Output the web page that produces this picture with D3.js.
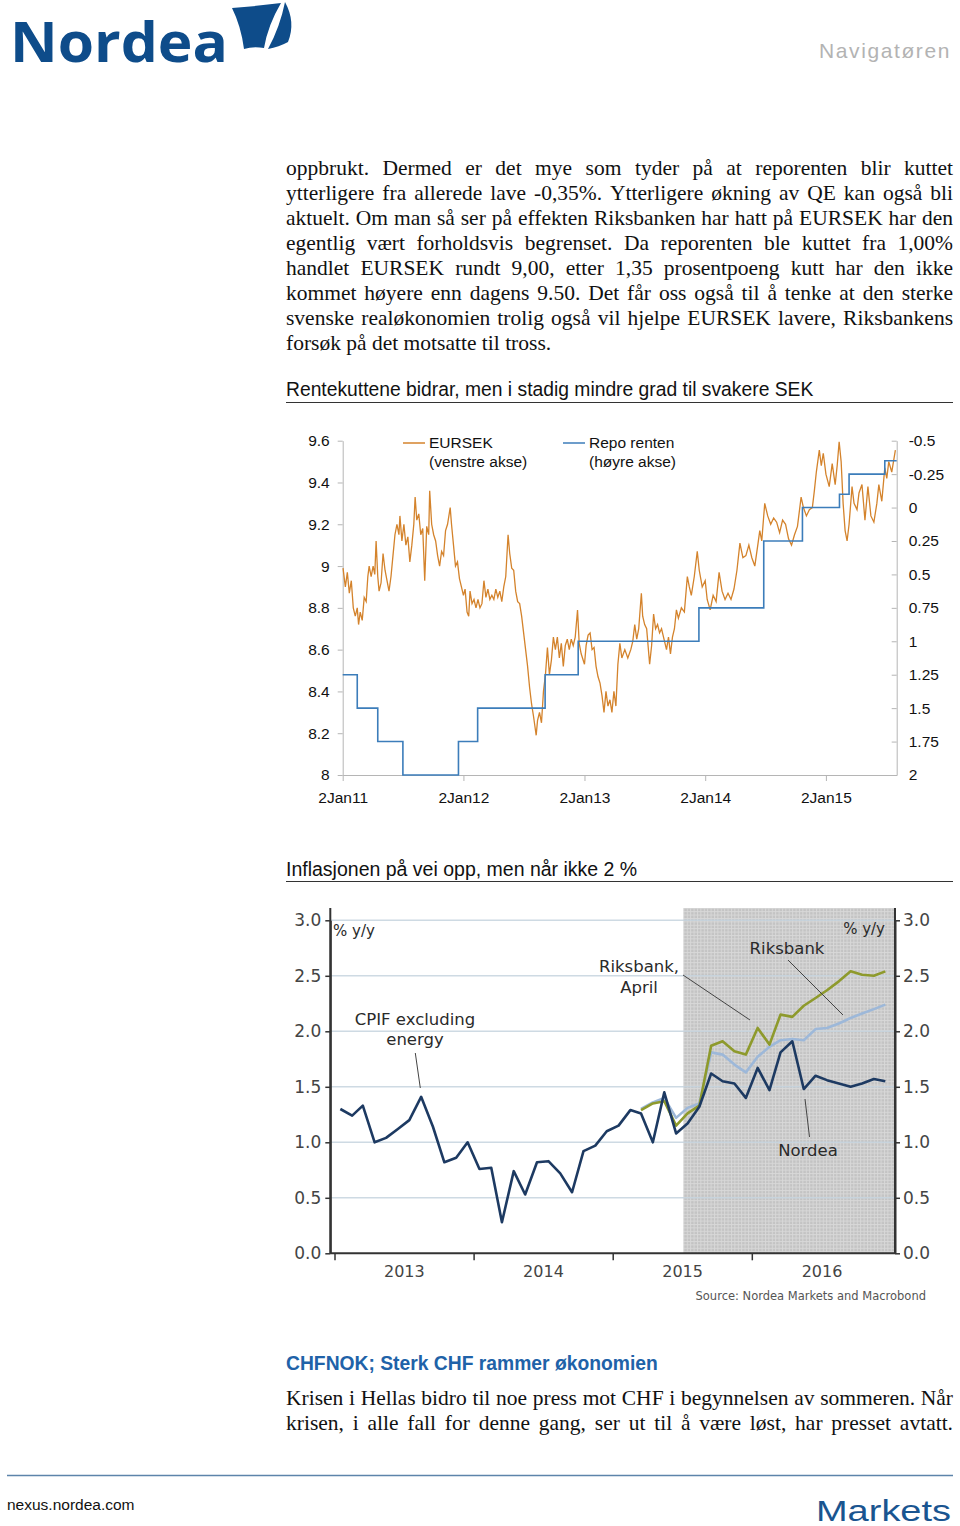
<!DOCTYPE html>
<html><head><meta charset="utf-8">
<script src="https://cdn.jsdelivr.net/npm/d3@7"></script>
<style>body{margin:0;background:#fff;}svg{display:block;}</style>
</head><body>
<svg id="page" width="960" height="1526"></svg>
<script>
// ---------------- DATA ----------------
const bodyLines = [
"oppbrukt. Dermed er det mye som tyder på at reporenten blir kuttet",
"ytterligere fra allerede lave -0,35%. Ytterligere økning av QE kan også bli",
"aktuelt. Om man så ser på effekten Riksbanken har hatt på EURSEK har den",
"egentlig vært forholdsvis begrenset. Da reporenten ble kuttet fra 1,00%",
"handlet EURSEK rundt 9,00, etter 1,35 prosentpoeng kutt har den ikke",
"kommet høyere enn dagens 9.50. Det får oss også til å tenke at den sterke",
"svenske realøkonomien trolig også vil hjelpe EURSEK lavere, Riksbankens",
"forsøk på det motsatte til tross."];
const lastLines = [
"Krisen i Hellas bidro til noe press mot CHF i begynnelsen av sommeren. Når",
"krisen, i alle fall for denne gang, ser ut til å være løst, har presset avtatt."];

// Chart 1
const eurTicks = [9.6,9.4,9.2,9,8.8,8.6,8.4,8.2,8];
const repoTicks = [-0.5,-0.25,0,0.25,0.5,0.75,1,1.25,1.5,1.75,2];
const dateTicks = ["2011-01-02","2012-01-02","2013-01-02","2014-01-02","2015-01-02"];
const dateTickLabels = ["2Jan11","2Jan12","2Jan13","2Jan14","2Jan15"];
const repo = [["2011-01-02",1.25],["2011-02-15",1.5],["2011-04-18",1.75],["2011-07-03",2.0],["2011-12-18",1.75],["2012-02-14",1.5],["2012-09-05",1.25],["2012-12-14",1.0],["2013-12-14",0.75],["2014-06-28",0.25],["2014-10-23",0.0],["2015-02-12",-0.1],["2015-03-13",-0.25],["2015-06-29",-0.35],["2015-08-04",-0.35]];
const eursek = [
["2011-01-03",8.99],["2011-01-10",8.90],["2011-01-16",8.97],["2011-01-22",8.87],["2011-01-28",8.93],["2011-02-03",8.80],["2011-02-09",8.76],["2011-02-15",8.80],["2011-02-19",8.72],["2011-02-24",8.78],["2011-03-02",8.74],["2011-03-08",8.85],["2011-03-14",8.83],["2011-03-19",8.95],["2011-03-23",9.00],["2011-03-29",8.95],["2011-04-04",9.00],["2011-04-09",8.96],["2011-04-13",9.12],["2011-04-18",8.95],["2011-04-22",8.88],["2011-04-28",8.92],["2011-05-04",9.06],["2011-05-10",8.98],["2011-05-16",8.93],["2011-05-22",8.88],["2011-05-28",8.95],["2011-06-03",9.05],["2011-06-09",9.15],["2011-06-15",9.20],["2011-06-21",9.15],["2011-06-24",9.24],["2011-06-30",9.12],["2011-07-06",9.20],["2011-07-12",9.10],["2011-07-18",9.14],["2011-07-24",9.02],["2011-07-30",9.10],["2011-08-05",9.20],["2011-08-09",9.33],["2011-08-14",9.22],["2011-08-20",9.25],["2011-08-26",9.15],["2011-09-01",9.18],["2011-09-07",8.93],["2011-09-13",9.19],["2011-09-19",9.15],["2011-09-22",9.36],["2011-09-28",9.20],["2011-10-04",9.15],["2011-10-10",9.12],["2011-10-16",9.05],["2011-10-22",9.00],["2011-10-28",9.07],["2011-11-03",9.05],["2011-11-09",9.17],["2011-11-15",9.20],["2011-11-23",9.28],["2011-11-27",9.20],["2011-12-03",9.10],["2011-12-09",9.00],["2011-12-15",9.02],["2011-12-21",8.94],["2011-12-27",8.90],
["2012-01-02",8.86],["2012-01-07",8.89],["2012-01-13",8.78],["2012-01-18",8.76],["2012-01-22",8.88],["2012-01-28",8.82],["2012-02-03",8.84],["2012-02-09",8.80],["2012-02-15",8.84],["2012-02-21",8.80],["2012-02-27",8.82],["2012-03-04",8.93],["2012-03-10",8.85],["2012-03-16",8.89],["2012-03-22",8.84],["2012-03-28",8.86],["2012-04-03",8.84],["2012-04-09",8.89],["2012-04-15",8.85],["2012-04-21",8.88],["2012-04-27",8.83],["2012-05-03",8.90],["2012-05-09",8.95],["2012-05-16",9.15],["2012-05-21",9.06],["2012-05-27",8.99],["2012-06-02",8.98],["2012-06-08",8.88],["2012-06-14",8.83],["2012-06-20",8.82],["2012-06-26",8.76],["2012-07-02",8.68],["2012-07-08",8.60],["2012-07-14",8.52],["2012-07-20",8.42],["2012-07-26",8.34],["2012-08-01",8.28],["2012-08-09",8.19],["2012-08-13",8.26],["2012-08-19",8.30],["2012-08-25",8.25],["2012-08-31",8.40],["2012-09-06",8.48],["2012-09-12",8.61],["2012-09-18",8.48],["2012-09-24",8.55],["2012-09-30",8.66],["2012-10-06",8.60],["2012-10-12",8.66],["2012-10-18",8.56],["2012-10-24",8.63],["2012-10-30",8.52],["2012-11-05",8.62],["2012-11-11",8.65],["2012-11-17",8.60],["2012-11-23",8.65],["2012-11-29",8.62],["2012-12-05",8.66],["2012-12-12",8.79],["2012-12-17",8.63],["2012-12-23",8.58],
["2013-01-02",8.53],["2013-01-07",8.62],["2013-01-13",8.67],["2013-01-19",8.68],["2013-01-25",8.60],["2013-01-31",8.61],["2013-02-06",8.52],["2013-02-12",8.47],["2013-02-18",8.44],["2013-02-24",8.38],["2013-03-02",8.30],["2013-03-08",8.40],["2013-03-14",8.33],["2013-03-20",8.36],["2013-03-26",8.30],["2013-04-01",8.40],["2013-04-07",8.33],["2013-04-13",8.53],["2013-04-19",8.63],["2013-04-25",8.56],["2013-05-04",8.60],["2013-05-13",8.56],["2013-05-22",8.60],["2013-05-28",8.64],["2013-06-03",8.72],["2013-06-09",8.65],["2013-06-15",8.70],["2013-06-23",8.87],["2013-06-27",8.76],["2013-07-03",8.72],["2013-07-09",8.70],["2013-07-18",8.53],["2013-07-24",8.62],["2013-07-30",8.77],["2013-08-05",8.70],["2013-08-11",8.72],["2013-08-17",8.68],["2013-08-23",8.70],["2013-08-29",8.66],["2013-09-07",8.60],["2013-09-13",8.66],["2013-09-19",8.58],["2013-09-25",8.66],["2013-10-01",8.70],["2013-10-07",8.79],["2013-10-13",8.75],["2013-10-22",8.80],["2013-10-31",8.78],["2013-11-09",8.95],["2013-11-15",8.90],["2013-11-21",8.86],["2013-11-30",8.95],["2013-12-09",9.07],["2013-12-15",8.98],["2013-12-24",8.90],
["2014-01-02",8.93],["2014-01-08",8.84],["2014-01-17",8.79],["2014-01-26",8.86],["2014-02-04",8.83],["2014-02-13",8.97],["2014-02-22",8.88],["2014-03-03",8.84],["2014-03-12",8.87],["2014-03-21",8.84],["2014-03-30",8.89],["2014-04-08",8.98],["2014-04-17",9.11],["2014-04-26",9.04],["2014-05-05",9.05],["2014-05-14",9.10],["2014-05-23",9.04],["2014-06-01",9.00],["2014-06-10",9.10],["2014-06-16",9.17],["2014-06-22",9.12],["2014-07-01",9.30],["2014-07-10",9.24],["2014-07-19",9.20],["2014-07-28",9.23],["2014-08-06",9.21],["2014-08-15",9.16],["2014-08-24",9.22],["2014-09-02",9.20],["2014-09-11",9.13],["2014-09-20",9.10],["2014-09-29",9.15],["2014-10-08",9.19],["2014-10-19",9.33],["2014-10-26",9.28],["2014-11-04",9.24],["2014-11-13",9.27],["2014-11-22",9.28],["2014-11-28",9.36],["2014-12-04",9.45],["2014-12-13",9.555],["2014-12-19",9.48],["2014-12-25",9.54],
["2015-01-02",9.44],["2015-01-12",9.38],["2015-01-21",9.49],["2015-01-30",9.39],["2015-02-05",9.48],["2015-02-11",9.595],["2015-02-17",9.50],["2015-02-23",9.30],["2015-03-01",9.17],["2015-03-07",9.12],["2015-03-13",9.20],["2015-03-22",9.38],["2015-03-28",9.30],["2015-04-06",9.27],["2015-04-12",9.35],["2015-04-21",9.39],["2015-04-30",9.22],["2015-05-09",9.38],["2015-05-18",9.24],["2015-05-27",9.21],["2015-06-05",9.30],["2015-06-11",9.39],["2015-06-20",9.31],["2015-06-29",9.47],["2015-07-05",9.42],["2015-07-11",9.50],["2015-07-20",9.45],["2015-07-31",9.555]];

// Chart 2 (monthly, Jan 2013 - Dec 2016)
const cpifStart = "2013-01-15";
const nordea = [1.30,1.24,1.33,1.00,1.04,1.12,1.20,1.41,1.14,0.82,0.86,1.00,0.76,0.77,0.28,0.74,0.53,0.82,0.83,0.72,0.55,0.92,0.97,1.10,1.15,1.29,1.26,1.00,1.45,1.08,1.17,1.32,1.62,1.55,1.53,1.40,1.67,1.47,1.81,1.91,1.48,1.60,1.56,1.53,1.50,1.53,1.57,1.55];
const forecastStartIndex = 26;
const riksbankApril = [1.29,1.35,1.37,1.15,1.26,1.33,1.87,1.91,1.82,1.79,2.03,1.88,2.15,2.13,2.23,2.30,2.37,2.45,2.54,2.51,2.50,2.54];
const riksbank = [1.30,1.36,1.40,1.22,1.31,1.35,1.81,1.79,1.70,1.63,1.77,1.86,1.92,1.93,1.92,2.02,2.03,2.07,2.12,2.16,2.20,2.24];
const cpifTicks = [0,0.5,1,1.5,2,2.5,3];
const yearTicks = ["2013-01-01","2014-01-01","2015-01-01","2016-01-01"];
const yearLabels = ["2013","2014","2015","2016"];
const yearLabelDates = ["2013-07-02","2014-07-02","2015-07-02","2016-07-02"];
const forecastShadeStart = "2015-07-04";

// ---------------- DRAW ----------------
const P = d3.timeParse("%Y-%m-%d");
const svg = d3.select("#page");
const SANS = '"Liberation Sans", Arial, sans-serif';
const SERIF = '"Liberation Serif", "Times New Roman", serif';
const VER = '"DejaVu Sans", Verdana, sans-serif';

// Header
svg.append("text").attr("x",10).attr("y",62).attr("textLength",218).attr("lengthAdjust","spacingAndGlyphs")
  .attr("font-family",'"Open Sans", sans-serif').attr("font-weight",700).attr("font-size",55)
  .attr("fill","#0e4c8a").text("Nordea");
svg.append("path").attr("d","M232,8 Q258,6 281,3 Q268,25 264,48 Q253,46 244,49 Q241,26 232,8 Z").attr("fill","#0e4c8a");
svg.append("path").attr("d","M285,2 Q296,22 288,42 Q279,47 268,49 Q280,27 285,2 Z").attr("fill","#0e4c8a");
svg.append("text").attr("x",951).attr("y",58).attr("text-anchor","end").attr("font-family",SANS)
  .attr("font-size",21).attr("letter-spacing",1.6).attr("fill","#b3b3b3").text("Navigatøren");

function justify(g, lines, o){
  lines.forEach((line,i)=>{
    const y = o.y0 + i*o.lh;
    const last = i===lines.length-1 && !o.justifyLast;
    if(last){
      g.append("text").attr("x",o.x0).attr("y",y).attr("font-family",o.font).attr("font-size",o.size).attr("fill",o.color).text(line);
      return;
    }
    const words = line.split(" ");
    const nodes = words.map(w=>g.append("text").attr("y",y).attr("font-family",o.font).attr("font-size",o.size).attr("fill",o.color).text(w));
    const ws = nodes.map(n=>n.node().getComputedTextLength());
    const gap = (o.x1-o.x0-d3.sum(ws))/(words.length-1);
    let x = o.x0;
    nodes.forEach((n,j)=>{ n.attr("x",x); x += ws[j]+gap; });
  });
}
justify(svg.append("g"), bodyLines, {x0:286,x1:953,y0:175,lh:25,font:SERIF,size:21.5,color:"#111",justifyLast:false});

// ---- Chart 1
svg.append("text").attr("x",286).attr("y",396).attr("font-family",SANS).attr("font-size",19.3).attr("fill","#111")
  .text("Rentekuttene bidrar, men i stadig mindre grad til svakere SEK");
svg.append("line").attr("x1",286).attr("x2",953).attr("y1",402.5).attr("y2",402.5).attr("stroke","#333").attr("stroke-width",1);

const c1 = {l:342.7, r:896.7, t:440.7, b:775};
const x1 = d3.scaleTime().domain([P("2011-01-02"),P("2015-08-04")]).range([c1.l,c1.r]);
const yL = d3.scaleLinear().domain([8,9.6]).range([c1.b,c1.t]);
const yR = d3.scaleLinear().domain([-0.5,2]).range([c1.t,c1.b]);
const axCol = "#b5b5b5";
function styleAxis(g){
  g.select(".domain").attr("stroke",axCol);
  g.selectAll(".tick line").attr("stroke",axCol);
  g.selectAll(".tick text").attr("fill","#111").attr("font-family",SANS).attr("font-size",15.5);
}
svg.append("g").attr("transform",`translate(${c1.l},0)`)
  .call(d3.axisLeft(yL).tickValues(eurTicks).tickSize(5).tickSizeOuter(0).tickPadding(8).tickFormat(String)).call(styleAxis);
svg.append("g").attr("transform",`translate(${c1.r},0)`)
  .call(d3.axisRight(yR).tickValues(repoTicks).tickSize(-5).tickSizeOuter(0).tickPadding(12).tickFormat(String)).call(styleAxis);
svg.append("g").attr("transform",`translate(0,${c1.b})`)
  .call(d3.axisBottom(x1).tickValues(dateTicks.map(P)).tickSize(6).tickSizeOuter(0).tickPadding(11)
    .tickFormat((d,i)=>dateTickLabels[i])).call(styleAxis);

const lineEur = d3.line().x(d=>x1(P(d[0]))).y(d=>yL(d[1]));
svg.append("path").datum(eursek).attr("d",lineEur).attr("fill","none").attr("stroke","#D4832C").attr("stroke-width",1.3);
const lineRepo = d3.line().curve(d3.curveStepAfter).x(d=>x1(P(d[0]))).y(d=>yR(d[1]));
svg.append("path").datum(repo).attr("d",lineRepo).attr("fill","none").attr("stroke","#3C7DBA").attr("stroke-width",1.6);

// legend
const leg = [{x:403,c:"#D4832C",t1:"EURSEK",t2:"(venstre akse)"},{x:563,c:"#3C7DBA",t1:"Repo renten",t2:"(høyre akse)"}];
leg.forEach(d=>{
  svg.append("line").attr("x1",d.x).attr("x2",d.x+22).attr("y1",443).attr("y2",443).attr("stroke",d.c).attr("stroke-width",1.5);
  svg.append("text").attr("x",d.x+26).attr("y",448).attr("font-family",SANS).attr("font-size",15.5).attr("fill","#111").text(d.t1);
  svg.append("text").attr("x",d.x+26).attr("y",467).attr("font-family",SANS).attr("font-size",15.5).attr("fill","#111").text(d.t2);
});

// ---- Chart 2
svg.append("text").attr("x",286).attr("y",876).attr("font-family",SANS).attr("font-size",19.5).attr("fill","#111")
  .text("Inflasjonen på vei opp, men når ikke 2 %");
svg.append("line").attr("x1",286).attr("x2",953).attr("y1",881.5).attr("y2",881.5).attr("stroke","#333").attr("stroke-width",1);

const c2 = {l:330.3, r:895, t:908, b:1253.3};
const x2 = d3.scaleTime().domain([P("2013-01-01"),P("2017-01-01")]).range([335,891.8]);
const y2 = d3.scaleLinear().domain([0,3]).range([c2.b,920.3]);

const defs = svg.append("defs");
const pat = defs.append("pattern").attr("id","hatch").attr("width",3.4).attr("height",3.4).attr("patternUnits","userSpaceOnUse");
pat.append("rect").attr("width",3.4).attr("height",3.4).attr("fill","#c3c3c3");
pat.append("rect").attr("width",3.4).attr("height",1).attr("fill","#d8d8d8");
pat.append("rect").attr("width",1).attr("height",3.4).attr("fill","#d8d8d8");

const shadeX = x2(P(forecastShadeStart));
svg.append("rect").attr("x",shadeX).attr("y",c2.t).attr("width",c2.r-shadeX).attr("height",c2.b-c2.t).attr("fill","url(#hatch)");

// gridlines
svg.append("g").selectAll("line").data(cpifTicks.filter(d=>d>0)).join("line")
  .attr("x1",c2.l).attr("x2",c2.r).attr("y1",d=>y2(d)).attr("y2",d=>y2(d))
  .attr("stroke","#c6d4de").attr("stroke-width",1.5).attr("stroke-opacity",0.85);

const dark = "#333";
function styleAxis2(g, size){
  g.select(".domain").attr("stroke",dark).attr("stroke-width",2);
  g.selectAll(".tick line").attr("stroke",dark).attr("stroke-width",1.5);
  g.selectAll(".tick text").attr("fill","#444").attr("font-family",VER).attr("font-size",size);
}
const fmt = d3.format(".1f");
svg.append("g").attr("transform",`translate(${c2.l},0)`)
  .call(d3.axisLeft(y2).tickValues(cpifTicks).tickSize(5).tickSizeOuter(0).tickPadding(4).tickFormat(fmt)).call(g=>styleAxis2(g,17));
svg.append("g").attr("transform",`translate(${c2.r},0)`)
  .call(d3.axisRight(y2).tickValues(cpifTicks).tickSize(5).tickSizeOuter(0).tickPadding(3).tickFormat(fmt)).call(g=>styleAxis2(g,17));
// extend vertical axes to top
svg.append("line").attr("x1",c2.l).attr("x2",c2.l).attr("y1",c2.t).attr("y2",c2.b).attr("stroke",dark).attr("stroke-width",2);
svg.append("line").attr("x1",c2.r).attr("x2",c2.r).attr("y1",c2.t).attr("y2",c2.b).attr("stroke",dark).attr("stroke-width",2);
// x axis
svg.append("line").attr("x1",c2.l).attr("x2",c2.r).attr("y1",c2.b).attr("y2",c2.b).attr("stroke",dark).attr("stroke-width",2);
svg.append("g").selectAll("line").data(yearTicks).join("line")
  .attr("x1",d=>x2(P(d))).attr("x2",d=>x2(P(d))).attr("y1",c2.b).attr("y2",c2.b+7).attr("stroke",dark).attr("stroke-width",1.5);
svg.append("g").selectAll("text").data(yearLabels).join("text")
  .attr("x",(d,i)=>x2(P(yearLabelDates[i]))).attr("y",1277).attr("text-anchor","middle")
  .attr("font-family",VER).attr("font-size",16).attr("fill","#444").text(d=>d);

const start = P(cpifStart);
const mx = i => x2(d3.timeMonth.offset(start,i));
const line2 = d3.line().x(d=>mx(d.i)).y(d=>y2(d.v));
const toPts = (arr,off)=>arr.map((v,k)=>({i:k+off,v}));
svg.append("path").datum(toPts(riksbank,forecastStartIndex)).attr("d",line2).attr("fill","none").attr("stroke","#9db8d9").attr("stroke-width",2.6).attr("stroke-linejoin","round");
svg.append("path").datum(toPts(riksbankApril,forecastStartIndex)).attr("d",line2).attr("fill","none").attr("stroke","#8e9a2c").attr("stroke-width",2.6).attr("stroke-linejoin","round");
svg.append("path").datum(toPts(nordea,0)).attr("d",line2).attr("fill","none").attr("stroke","#1d3a62").attr("stroke-width",2.6).attr("stroke-linejoin","round");

// annotations
const ann = svg.append("g").attr("font-family",VER).attr("fill","#2a2a2a");
ann.append("text").attr("x",333).attr("y",936).attr("font-size",15).text("% y/y");
ann.append("text").attr("x",885).attr("y",934).attr("font-size",15).attr("text-anchor","end").text("% y/y");
ann.append("text").attr("x",415).attr("y",1025).attr("font-size",16.5).attr("text-anchor","middle").text("CPIF excluding");
ann.append("text").attr("x",415).attr("y",1045).attr("font-size",16.5).attr("text-anchor","middle").text("energy");
ann.append("text").attr("x",639).attr("y",972).attr("font-size",16.5).attr("text-anchor","middle").text("Riksbank,");
ann.append("text").attr("x",639).attr("y",993).attr("font-size",16.5).attr("text-anchor","middle").text("April");
ann.append("text").attr("x",787).attr("y",954).attr("font-size",16.5).attr("text-anchor","middle").text("Riksbank");
ann.append("text").attr("x",808).attr("y",1156).attr("font-size",16.5).attr("text-anchor","middle").text("Nordea");
ann.append("text").attr("x",926).attr("y",1300).attr("font-size",11.5).attr("text-anchor","end").attr("fill","#555").text("Source: Nordea Markets and Macrobond");
const leaders = [[415.3,1053,420.3,1088],[683,975,750,1020],[788,960,843,1015],[805,1099,809.5,1137]];
svg.append("g").selectAll("line").data(leaders).join("line")
  .attr("x1",d=>d[0]).attr("y1",d=>d[1]).attr("x2",d=>d[2]).attr("y2",d=>d[3]).attr("stroke","#444").attr("stroke-width",1);

// ---- CHFNOK section
svg.append("text").attr("x",286).attr("y",1370).attr("font-family",SANS).attr("font-weight",700).attr("font-size",19.3)
  .attr("fill","#2062a8").text("CHFNOK; Sterk CHF rammer økonomien");
justify(svg.append("g"), lastLines, {x0:286,x1:953,y0:1405,lh:25,font:SERIF,size:21.5,color:"#111",justifyLast:true});

// ---- Footer
svg.append("line").attr("x1",7).attr("x2",953).attr("y1",1475.5).attr("y2",1475.5).attr("stroke","#5d84aa").attr("stroke-width",1.5);
svg.append("text").attr("x",7).attr("y",1510).attr("font-family",SANS).attr("font-size",15.5).attr("fill","#111").text("nexus.nordea.com");
svg.append("text").attr("x",816).attr("y",1521).attr("textLength",135).attr("lengthAdjust","spacingAndGlyphs")
  .attr("font-family",SANS).attr("font-size",30).attr("fill","#1a5590").text("Markets");
</script>
</body></html>
